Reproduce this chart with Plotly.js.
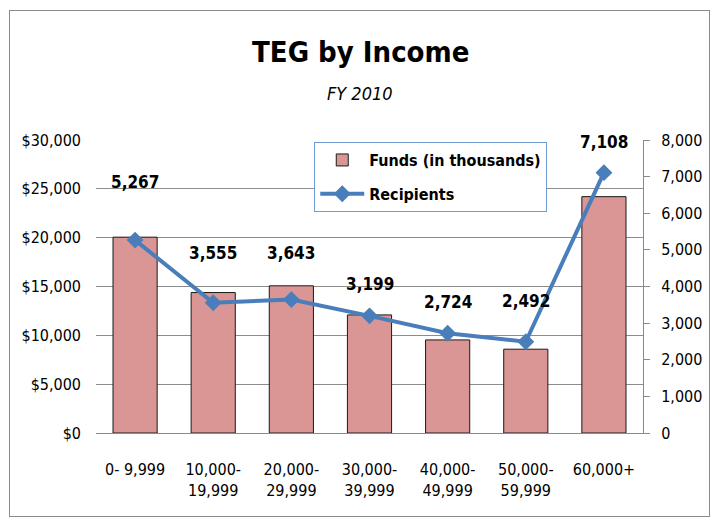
<!DOCTYPE html>
<html><head><meta charset="utf-8">
<script src="https://cdn.plot.ly/plotly-3.0.1.min.js"></script>
<style>
html,body{margin:0;padding:0;background:#fff;}
#wrap{position:relative;width:716px;height:518px;}
#chart{width:716px;height:518px;}
#frame{position:absolute;left:9px;top:10px;width:699px;height:505px;border:1px solid #8a8a8a;pointer-events:none;}
</style></head>
<body>
<div id="wrap"><div id="chart"></div><div id="frame"></div></div>
<script>
const categories = ["0- 9,999","10,000-<br>19,999","20,000-<br>29,999","30,000-<br>39,999","40,000-<br>49,999","50,000-<br>59,999","60,000+"];
const funds = [20050, 14380, 15070, 12090, 9530, 8580, 24200];
const recipients = [5267, 3555, 3643, 3199, 2724, 2492, 7108];
const labelShift = [58, 50, 47, 32, 31, 41, 31];
const titleText = 'TEG by Income';
const subtitleText = 'FY 2010';

const FONT = '"DejaVu Sans Condensed", "DejaVu Sans", sans-serif';

const traces = [
  {type:'bar', name:'Funds (in thousands)', x:categories, y:funds, legendgroup:'a',
   marker:{color:'#d99694', line:{color:'#1a1a1a', width:1}}, hoverinfo:'skip'},
  {type:'scatter', mode:'lines+markers', name:'Recipients', x:categories, y:recipients, yaxis:'y2', legendgroup:'b',
   line:{color:'#4a7ebb', width:4}, marker:{symbol:'diamond', size:13, color:'#4a7ebb'}, hoverinfo:'skip'}
];

const annotations = recipients.map((v,i)=>({
  x:categories[i], y:v, xref:'x', yref:'y2', text:v.toLocaleString('en-US'),
  showarrow:false, yanchor:'middle', yshift:labelShift[i],
  font:{family:FONT, size:17, color:'#000', weight:'bold'}
}));
annotations.push({xref:'paper', yref:'paper', x:0.484, y:1.302, yanchor:'middle', showarrow:false,
  text:'<b>'+titleText+'</b>', font:{family:FONT, size:29, color:'#000'}});
annotations.push({xref:'paper', yref:'paper', x:0.482, y:1.157, yanchor:'middle', showarrow:false,
  text:'<i>'+subtitleText+'</i>', font:{family:FONT, size:18, color:'#000'}});

const layout = {
  width:716, height:518,
  margin:{l:96, r:73, t:140, b:85},
  paper_bgcolor:'#fff', plot_bgcolor:'#fff',
  font:{family:FONT, size:16, color:'#000'},
  bargap:0.435,
  showlegend:true,
  legend:{x:0.399, y:0.993, xanchor:'left', yanchor:'top', bordercolor:'#6f9bd1', borderwidth:1,
          bgcolor:'#fff', font:{family:FONT, size:16, color:'#000', weight:'bold'}, traceorder:'grouped',
          tracegroupgap:10, itemwidth:44},
  xaxis:{type:'category', showline:true, linecolor:'#8a8a8a', linewidth:1, ticks:'', showgrid:false,
         tickfont:{family:FONT, size:16}, ticklabelstandoff:22, fixedrange:true},
  yaxis:{range:[0,30000], dtick:5000, tickprefix:'$', tickformat:',d', showgrid:true,
         gridcolor:'#8c8c8c', gridwidth:1, zeroline:false, showline:false, ticks:'',
         ticklabelstandoff:14, tickfont:{family:FONT, size:16}},
  yaxis2:{range:[0,8000], dtick:1000, tickformat:',d', overlaying:'y', side:'right', showgrid:false,
          zeroline:false, showline:true, linecolor:'#8a8a8a', linewidth:1, ticks:'outside', ticklen:6,
          tickcolor:'#8a8a8a', ticklabelstandoff:8, tickfont:{family:FONT, size:16}},
  annotations:annotations
};

Plotly.newPlot('chart', traces, layout, {displayModeBar:false, staticPlot:true});
</script>
</body></html>
